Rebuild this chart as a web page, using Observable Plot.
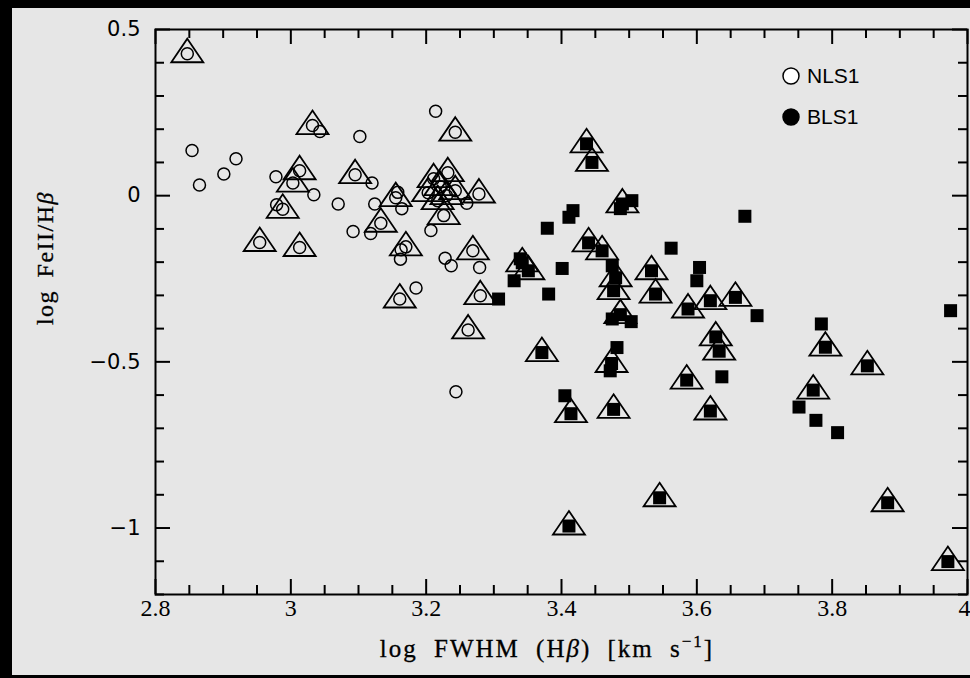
<!DOCTYPE html>
<html><head><meta charset="utf-8">
<script src="https://cdn.jsdelivr.net/npm/d3@7"></script>
<script src="https://cdn.jsdelivr.net/npm/@observablehq/plot@0.6"></script>
<style>
html,body{margin:0;padding:0;background:#000;width:970px;height:678px;overflow:hidden}
#wrap{position:absolute;left:12px;top:8px;width:958px;height:667px;background:#e6e6e6}
#legend{position:absolute;left:781px;top:55px;font-family:"Liberation Sans",Arial,sans-serif;font-size:21px;color:#000}
#legend div{display:flex;align-items:center;height:41px}
#legend svg{margin-right:6px}
</style></head><body><div id="wrap"></div>
<div id="legend"></div>
<script>
// NLS1 (open circles); tri = 1 if overplotted with a triangle
const nlsX = [2.847,2.854,2.865,2.901,2.919,3.032,3.043,2.978,3.013,3.003,3.034,3.070,2.979,2.988,
  3.214,3.243,3.102,3.095,3.120,3.278,3.260,3.226,3.207,3.124,3.155,3.158,3.164,3.133,3.092,3.118,
  3.170,3.163,3.162,3.269,3.228,3.237,3.279,2.954,3.013,3.185,3.161,3.280,3.262,3.244,
  3.211,3.232,3.221,3.203,3.230,3.217,3.243];
const nlsY = [0.427,0.136,0.032,0.065,0.111,0.211,0.193,0.057,0.075,0.038,0.003,-0.025,-0.027,-0.041,
  0.254,0.191,0.178,0.063,0.038,0.005,-0.023,-0.060,-0.105,-0.025,-0.006,0.010,-0.039,-0.083,-0.108,-0.114,
  -0.154,-0.163,-0.191,-0.166,-0.188,-0.211,-0.216,-0.141,-0.156,-0.278,-0.311,-0.301,-0.404,-0.590,
  0.051,0.069,0.027,0.009,0.000,-0.015,0.015];
const nlsTri = [1,0,0,0,0,1,0,0,1,1,0,0,0,1,
  0,1,0,1,0,1,0,1,0,0,1,0,0,1,0,0,
  1,0,0,1,0,0,0,1,1,0,1,1,1,0,
  1,1,1,1,1,1,1];

// BLS1 (filled squares)
const blsX = [3.437,3.445,3.490,3.504,3.487,3.417,3.411,3.379,3.440,3.460,3.562,3.342,3.351,3.330,3.339,
  3.401,3.381,3.307,3.475,3.480,3.477,3.533,3.539,3.604,3.600,3.587,3.620,3.487,3.475,3.503,3.482,
  3.671,3.657,3.689,3.975,3.784,3.790,3.852,3.628,3.633,3.637,3.772,3.371,3.474,3.472,3.405,3.414,
  3.477,3.585,3.620,3.545,3.411,3.751,3.776,3.808,3.882,3.971];
const blsY = [0.156,0.100,-0.025,-0.015,-0.039,-0.045,-0.065,-0.098,-0.142,-0.166,-0.158,-0.202,-0.226,-0.256,-0.190,
  -0.219,-0.296,-0.311,-0.211,-0.247,-0.286,-0.226,-0.296,-0.216,-0.256,-0.341,-0.316,-0.358,-0.371,-0.379,-0.457,
  -0.062,-0.306,-0.361,-0.346,-0.386,-0.456,-0.512,-0.425,-0.468,-0.545,-0.585,-0.472,-0.505,-0.527,-0.602,-0.656,
  -0.643,-0.555,-0.648,-0.909,-0.994,-0.636,-0.676,-0.713,-0.924,-1.101];
const blsTri = [1,1,1,0,0,0,0,0,1,1,0,1,1,0,0,
  0,0,0,0,1,1,1,1,0,0,1,1,1,0,0,0,
  0,1,0,0,0,1,1,1,1,0,1,1,1,0,0,1,
  1,1,1,1,1,0,0,0,1,1];

const xMajor = [2.8,3.0,3.2,3.4,3.6,3.8,4.0];
const xMajorLabels = ["2.8","3","3.2","3.4","3.6","3.8","4"];
const xMinor = [2.85,2.9,2.95,3.05,3.1,3.15,3.25,3.3,3.35,3.45,3.5,3.55,3.65,3.7,3.75,3.85,3.9,3.95];
const yMajor = [-1,-0.5,0,0.5];
const yMajorLabels = ["\u22121","\u22120.5","0","0.5"];
const yMinor = [-1.2,-1.1,-0.9,-0.8,-0.7,-0.6,-0.4,-0.3,-0.2,-0.1,0.1,0.2,0.3,0.4];

const nls = nlsX.map((x,i)=>({x, y:nlsY[i], tri:nlsTri[i]}));
const bls = blsX.map((x,i)=>({x, y:blsY[i], tri:blsTri[i]}));
const tris = nls.filter(d=>d.tri).concat(bls.filter(d=>d.tri));

const triSym = {draw(ctx, size){const r=Math.sqrt(size/Math.PI);
  ctx.moveTo(0,-0.94*r); ctx.lineTo(r,0.53*r); ctx.lineTo(-r,0.53*r); ctx.closePath();}};
const sqSym = {draw(ctx, size){const r=Math.sqrt(size/Math.PI); ctx.rect(-r,-r,2*r,2*r);}};

const xLab = new Map(xMajor.map((v,i)=>[v.toFixed(2), xMajorLabels[i]]));
const yLab = new Map(yMajor.map((v,i)=>[v.toFixed(2), yMajorLabels[i]]));

const W = 958, H = 667;
const M = {left:143, right:3, top:21, bottom:81};
const PW = W - M.left - M.right, PH = H - M.top - M.bottom;
const MAJ = 15, MIN = 9;
const tk = {stroke:"#000", strokeWidth:2};

const plot = Plot.plot({
  width: W, height: H,
  marginLeft: M.left, marginRight: M.right, marginTop: M.top, marginBottom: M.bottom,
  style: {background:"transparent", color:"#000", overflow:"visible"},
  x: {domain:[2.8,4.0]},
  y: {domain:[-1.2,0.5]},
  marks: [
    // inward ticks on all four sides
    Plot.tickX(xMajor, {x:d=>d, insetTop: PH - MAJ, ...tk}),
    Plot.tickX(xMinor, {x:d=>d, insetTop: PH - MIN, ...tk}),
    Plot.tickX(xMajor, {x:d=>d, insetBottom: PH - MAJ, ...tk}),
    Plot.tickX(xMinor, {x:d=>d, insetBottom: PH - MIN, ...tk}),
    Plot.tickY(yMajor, {y:d=>d, insetRight: PW - MAJ, ...tk}),
    Plot.tickY(yMinor, {y:d=>d, insetRight: PW - MIN, ...tk}),
    Plot.tickY(yMajor, {y:d=>d, insetLeft: PW - MAJ, ...tk}),
    Plot.tickY(yMinor, {y:d=>d, insetLeft: PW - MIN, ...tk}),
    // tick labels
    Plot.axisX(xMajor.slice(0,-1), {anchor:"bottom", tickSize:0, tickPadding:4, label:null,
      tickFormat: d => xLab.get((+d).toFixed(2)),
      fontFamily:"Liberation Serif", fontSize:24, stroke:"#000", strokeWidth:0.4}),
    Plot.axisX(xMajor.slice(-1), {anchor:"bottom", tickSize:0, tickPadding:4, label:null,
      tickFormat: d => xLab.get((+d).toFixed(2)), textAnchor:"end", dx:3,
      fontFamily:"Liberation Serif", fontSize:24, stroke:"#000", strokeWidth:0.4}),
    Plot.axisY(yMajor, {anchor:"left", tickSize:0, tickPadding:15, label:null,
      tickFormat: d => yLab.get((+d).toFixed(2)),
      fontFamily:"DejaVu Sans", fontSize:21, stroke:"#000", strokeWidth:0.35}),
    Plot.frame({stroke:"#000", strokeWidth:2}),
    Plot.dot(nls, {x:"x", y:"y", r:6, fill:"none", stroke:"#000", strokeWidth:1.5}),
    Plot.dot(bls, {x:"x", y:"y", r:6.5, symbol:sqSym, fill:"#000", stroke:"none"}),
    Plot.dot(tris, {x:"x", y:"y", r:16, symbol:triSym, fill:"none", stroke:"#000", strokeWidth:1.8})
  ]
});
document.getElementById("wrap").appendChild(plot);

// axis titles
const svg = d3.select(plot);
const xt = svg.append("text")
  .attr("x", M.left + PW/2 - 14).attr("y", 649)
  .attr("text-anchor","middle")
  .attr("font-family","Liberation Serif").attr("font-size",25)
  .attr("letter-spacing","2px").attr("word-spacing","8px").attr("fill","#000")
  .attr("stroke","#000").attr("stroke-width",0.3);
xt.append("tspan").text("log FWHM (H");
xt.append("tspan").attr("font-style","italic").text("\u03B2");
xt.append("tspan").text(") [km s");
xt.append("tspan").attr("dy",-10).attr("font-size",17).text("\u22121");
xt.append("tspan").attr("dy",10).text("]");

const yt = svg.append("text")
  .attr("transform","translate(41,250) rotate(-90)")
  .attr("text-anchor","middle")
  .attr("font-family","Liberation Serif").attr("font-size",24)
  .attr("letter-spacing","1.5px").attr("word-spacing","5px").attr("fill","#000")
  .attr("stroke","#000").attr("stroke-width",0.3);
yt.append("tspan").text("log FeII/H");
yt.append("tspan").attr("font-style","italic").text("\u03B2");

// legend
const legendItems = ["NLS1","BLS1"];
const legendFill = ["#fff","#000"];
const lg = d3.select("#legend");
legendItems.forEach((name,i)=>{
  const row = lg.append("div");
  const s = row.append("svg").attr("width",20).attr("height",20);
  s.append("circle").attr("cx",10).attr("cy",10).attr("r",8)
    .attr("fill",legendFill[i]).attr("stroke","#000").attr("stroke-width",1.5);
  row.append("span").text(name);
});
</script>
</body></html>
